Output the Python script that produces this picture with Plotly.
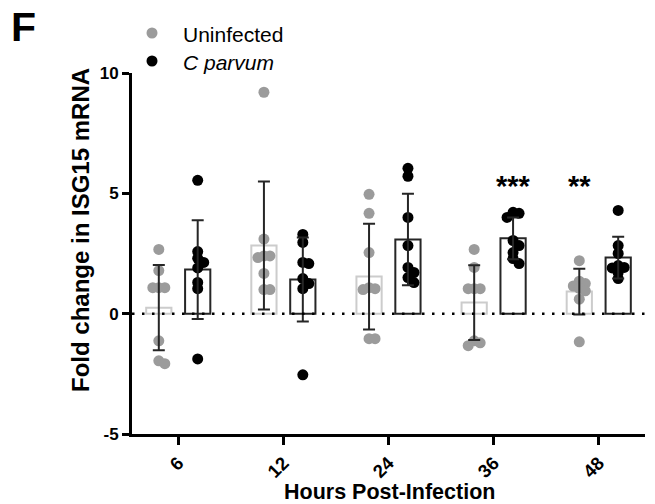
import numpy as np
import plotly.graph_objects as go

# ---------------- data ----------------
hours = ["6", "12", "24", "36", "48"]

uninfected_pts = [
    [2.67, 1.79, 1.08, 1.08, 1.08, -1.13, -1.96, -2.08],
    [9.2, 3.1, 2.4, 2.33, 2.4, 1.67, 1.0, 1.0],
    [4.96, 4.17, 2.54, 1.08, 1.04, 1.0, -1.04, -1.04],
    [2.67, 1.92, 1.04, 1.04, 1.04, -1.13, -1.21, -1.33],
    [2.2, 1.35, 1.25, 1.15, 1.05, 0.95, 0.6, -1.17],
]
cparvum_pts = [
    [5.54, 2.58, 2.3, 2.13, 1.9, 1.3, 1.04, -1.88],
    [3.29, 2.96, 2.08, 2.13, 1.46, 1.25, 1.04, -2.54],
    [6.04, 5.71, 4.0, 2.83, 1.92, 1.71, 1.5, 1.29],
    [4.0, 4.21, 4.17, 3.04, 2.83, 2.54, 2.29, 2.08],
    [4.29, 2.83, 2.5, 2.0, 1.92, 1.9, 1.71, 1.46],
]
uninfected_mean = [0.25, 2.83, 1.54, 0.46, 0.92]
uninfected_sd = [1.77, 2.66, 2.2, 1.55, 0.95]
cparvum_mean = [1.83, 1.42, 3.08, 3.13, 2.33]
cparvum_sd = [2.05, 1.75, 1.9, 0.87, 0.87]

sig_labels = ["", "", "", "***", "**"]
sig_series = ["", "", "", "cparvum", "uninfected"]

series_names = ["Uninfected", "<i>C parvum</i>"]

# ---------------- layout constants ----------------
W, H = 655, 504
ML, MR, MT, MB = 132, 10, 73, 70
XR = [-0.44, 4.44]
YR = [-5, 10]
PW, PH = W - ML - MR, H - MT - MB
px_x = PW / (XR[1] - XR[0])
px_y = PH / (YR[1] - YR[0])
OFF = 0.185
BW = 0.24

GRAY_PT = "#9b9b9b"
GRAY_BAR = "#cccccc"
DARK = "#262626"
FONT = "Liberation Sans, Arial, sans-serif"


def paper_x(page_x):
    return (page_x - ML) / PW


def paper_y(page_y):
    return (MT + PH - page_y) / PH


def swarm(vals, min_d=6.0, step=6.0):
    """Simple deterministic beeswarm in pixel space; returns x offsets (data units)."""
    order = np.argsort(-np.asarray(vals))
    placed = []
    offs = [0.0] * len(vals)
    for i in order:
        vy = vals[i] * px_y
        for k in [0, 1, -1, 2, -2, 3, -3, 4, -4]:
            ox = k * step
            if all((ox - px) ** 2 + (vy - py) ** 2 >= min_d ** 2 for px, py in placed):
                placed.append((ox, vy))
                offs[i] = ox / px_x
                break
    return offs


xs = np.arange(len(hours))
fig = go.Figure()

# bars
fig.add_trace(go.Bar(x=xs - OFF, y=uninfected_mean, width=BW,
                     marker=dict(color="rgba(255,255,255,0)", line=dict(color=GRAY_BAR, width=2)),
                     showlegend=False, hoverinfo="skip"))
fig.add_trace(go.Bar(x=xs + OFF, y=cparvum_mean, width=BW,
                     marker=dict(color="rgba(255,255,255,0)", line=dict(color=DARK, width=2)),
                     showlegend=False, hoverinfo="skip"))

# zero dotted line
fig.add_shape(type="line", xref="paper", yref="y", x0=0, x1=1, y0=0, y1=0,
              line=dict(color="black", width=2.5, dash="2.5px,7.5px"), layer="above")

# points
for pts, sign, color in [(uninfected_pts, -1, GRAY_PT), (cparvum_pts, 1, "black")]:
    px_all, py_all = [], []
    for i, vals in enumerate(pts):
        offs = swarm(vals)
        for v, o in zip(vals, offs):
            px_all.append(i + sign * OFF + o)
            py_all.append(v)
    fig.add_trace(go.Scatter(x=px_all, y=py_all, mode="markers",
                             marker=dict(color=color, size=11, line=dict(width=0)),
                             showlegend=False))

# error bars on top
for means, sds, sign in [(uninfected_mean, uninfected_sd, -1), (cparvum_mean, cparvum_sd, 1)]:
    fig.add_trace(go.Scatter(x=xs + sign * OFF, y=means, mode="markers",
                             marker=dict(size=1, color="rgba(0,0,0,0)"),
                             error_y=dict(type="data", array=sds, visible=True,
                                          color=DARK, thickness=2, width=6),
                             showlegend=False, hoverinfo="skip"))

# significance stars
for i, (lab, ser) in enumerate(zip(sig_labels, sig_series)):
    if not lab:
        continue
    xpos = i + OFF if ser == "cparvum" else i - OFF
    fig.add_annotation(x=xpos, y=4.55, text="<b>" + lab + "</b>", showarrow=False,
                       yanchor="bottom", font=dict(size=29, color="black"))

# manual legend
for (py, color, name) in [(33, GRAY_PT, series_names[0]), (61, "black", series_names[1])]:
    fig.add_shape(type="circle", xref="paper", yref="paper",
                  xsizemode="pixel", ysizemode="pixel",
                  xanchor=paper_x(152), yanchor=paper_y(py),
                  x0=-5.5, x1=5.5, y0=-5.5, y1=5.5,
                  fillcolor=color, line=dict(width=0))
    fig.add_annotation(xref="paper", yref="paper", x=paper_x(180.5), y=paper_y(py + 1.5),
                       text=name, showarrow=False, xanchor="left", yanchor="middle",
                       font=dict(size=21, color="black"))

# panel label
fig.add_annotation(xref="paper", yref="paper", x=paper_x(10), y=paper_y(27), text="<b>F</b>",
                   showarrow=False, xanchor="left", yanchor="middle", borderpad=0,
                   font=dict(size=41, color="black"))

# axis titles
fig.add_annotation(xref="paper", yref="paper", x=paper_x(81), y=paper_y(230),
                   text="<b>Fold change in ISG15 mRNA</b>", textangle=-90, showarrow=False,
                   xanchor="center", yanchor="middle", font=dict(size=24, color="black"))
fig.add_annotation(xref="paper", yref="paper", x=paper_x(389), y=paper_y(492),
                   text="<b>Hours Post-Infection</b>", showarrow=False,
                   xanchor="center", yanchor="middle", font=dict(size=21.5, color="black"))

fig.update_layout(
    width=W, height=H,
    margin=dict(l=ML, r=MR, t=MT, b=MB, autoexpand=False),
    plot_bgcolor="white", paper_bgcolor="white",
    font=dict(family=FONT, color="black"),
    barmode="overlay",
    showlegend=False,
    xaxis=dict(range=XR, tickmode="array", tickvals=list(xs),
               ticktext=["<b>" + h + "</b>" for h in hours], tickangle=-45,
               tickfont=dict(size=18.5), ticks="outside", ticklen=8, tickwidth=3,
               tickcolor="black", showline=True, linecolor="black", linewidth=3,
               showgrid=False, zeroline=False),
    yaxis=dict(range=YR, tickvals=[-5, 0, 5, 10],
               ticktext=["<b>-5</b>", "<b>0</b>", "<b>5</b>", "<b>10</b>"],
               tickfont=dict(size=17), ticks="outside", ticklen=7, tickwidth=3,
               tickcolor="black", showline=True, linecolor="black", linewidth=3,
               showgrid=False, zeroline=False),
)

fig.write_html("out.html", config={"displayModeBar": False},
               post_script="document.body.style.margin='0px';")
